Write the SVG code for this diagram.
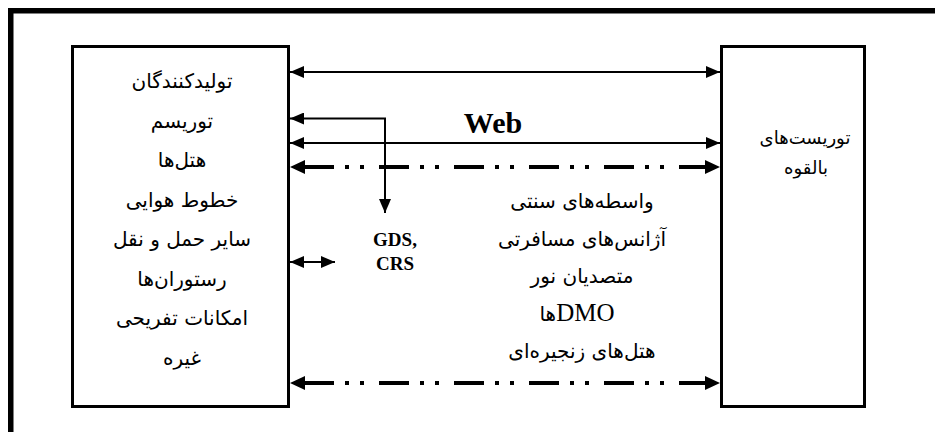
<svg xmlns="http://www.w3.org/2000/svg" width="935" height="432" viewBox="0 0 935 432">
  <style>
    .frame { fill: none; stroke: #000; stroke-width: 5.5; }
    .box { fill: #fff; stroke: #000; stroke-width: 3; }
    .fa { font-family: "DejaVu Sans", "Noto Sans", sans-serif; font-size: 20px; fill: #000; }
    .fa-s { font-family: "DejaVu Sans", "Noto Sans", sans-serif; font-size: 18px; fill: #000; }
    .lat { font-family: "Liberation Serif", "DejaVu Serif", serif; font-weight: bold; fill: #000; }
    .ser { font-family: "Liberation Serif", "DejaVu Serif", serif; font-size: 25px; fill: #000; }
    .thin { fill: none; stroke: #000; stroke-width: 2; }
    .thick { fill: none; stroke: #000; stroke-width: 4; stroke-dasharray: 30 11 4 11 4 15; stroke-dashoffset: 61; }
  </style>
  <defs>
    <marker id="ah" markerUnits="userSpaceOnUse" markerWidth="14" markerHeight="12" refX="14" refY="6" orient="auto-start-reverse">
      <path d="M0,0 L14,6 L0,12 z" fill="#000"/>
    </marker>
    <marker id="ahb" markerUnits="userSpaceOnUse" markerWidth="15" markerHeight="14" refX="15" refY="7" orient="auto-start-reverse">
      <path d="M0,0 L15,7 L0,14 z" fill="#000"/>
    </marker>
  </defs>

  <rect class="frame" x="10.75" y="10.75" width="960" height="460"/>

  <g id="producers">
    <rect class="box" x="72.5" y="46.5" width="216" height="360"/>
    <text class="fa" direction="rtl" text-anchor="middle" x="182" y="88">تولیدکنندگان</text>
    <text class="fa" direction="rtl" text-anchor="middle" x="182" y="127.5">توریسم</text>
    <text class="fa" direction="rtl" text-anchor="middle" x="182" y="167">هتل‌ها</text>
    <text class="fa" direction="rtl" text-anchor="middle" x="182" y="206.5">خطوط هوایی</text>
    <text class="fa" direction="rtl" text-anchor="middle" x="182" y="246">سایر حمل و نقل</text>
    <text class="fa" direction="rtl" text-anchor="middle" x="182" y="285.5">رستوران‌ها</text>
    <text class="fa" direction="rtl" text-anchor="middle" x="182" y="325">امکانات تفریحی</text>
    <text class="fa" direction="rtl" text-anchor="middle" x="182" y="364.5">غیره</text>
  </g>

  <g id="tourists">
    <rect class="box" x="721.5" y="46.5" width="143" height="360"/>
    <text class="fa-s" direction="rtl" text-anchor="middle" x="805" y="144">توریست‌های</text>
    <text class="fa-s" direction="rtl" text-anchor="middle" x="806" y="174">بالقوه</text>
  </g>

  <g id="web-label">
    <text class="lat" x="493" y="133" font-size="30" text-anchor="middle">Web</text>
  </g>

  <g id="gds">
    <text class="lat" x="395" y="246" font-size="19" text-anchor="middle">GDS,</text>
    <text class="lat" x="395" y="270" font-size="19" text-anchor="middle">CRS</text>
  </g>

  <g id="intermediaries">
    <text class="fa" direction="rtl" text-anchor="middle" x="582" y="208">واسطه‌های سنتی</text>
    <text class="fa" direction="rtl" text-anchor="middle" x="582" y="245.5">آژانس‌های مسافرتی</text>
    <text class="fa" direction="rtl" text-anchor="middle" x="582" y="283">متصدیان نور</text>
    <text class="ser" direction="rtl" text-anchor="middle" x="577" y="321">DMO<tspan class="fa">ها</tspan></text>
    <text class="fa" direction="rtl" text-anchor="middle" x="582" y="358">هتل‌های زنجیره‌ای</text>
  </g>

  <g id="connectors">
    <path class="thin" d="M290,72 H720" marker-start="url(#ah)" marker-end="url(#ah)"/>
    <path class="thin" d="M290,118.5 H385 V213" marker-start="url(#ah)" marker-end="url(#ah)"/>
    <path class="thin" d="M290,143 H720" marker-start="url(#ah)" marker-end="url(#ah)"/>
    <path class="thick" d="M290,167 H720" marker-start="url(#ahb)" marker-end="url(#ahb)"/>
    <path class="thin" d="M290,262 H335" marker-start="url(#ah)" marker-end="url(#ah)"/>
    <path class="thick" d="M290,383 H720" marker-start="url(#ahb)" marker-end="url(#ahb)"/>
  </g>
</svg>
